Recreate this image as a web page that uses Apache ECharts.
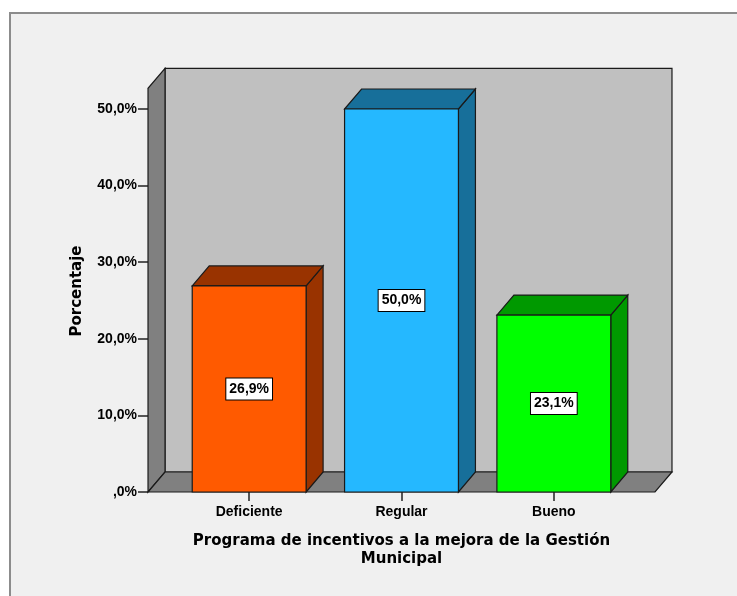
<!DOCTYPE html>
<html>
<head>
<meta charset="utf-8">
<script src="https://cdn.jsdelivr.net/npm/echarts@6/dist/echarts.min.js"></script>
<style>
	html, body { margin: 0; padding: 0; background: #ffffff; }
	#chart { width: 737px; height: 596px; }
</style>
</head>
<body>
<div id="chart"></div>
<script>
// datos del grafico
const categories = ['Deficiente', 'Regular', 'Bueno'];
const percentages = [26.9, 50.0, 23.1];
const frontColors = ['#ff5a00', '#25b8ff', '#00ff00'];
const sideColors = ['#993300', '#176f9a', '#009900'];
const wallTop = [52.7]; // altura de las paredes del fondo

const depthX = 17;   // profundidad 3D en px
const depthY = -20;
const barRatio = 0.7475;
const edgeRatio = 0.664;
const edgeColor = '#1a1a1a';
const arialFont = '"Liberation Sans", Arial, sans-serif';
const titleFont = '"DejaVu Sans", Verdana, sans-serif';

function fmtPct(v) {
	if (v === 0) return ',0%';
	return v.toFixed(1).replace('.', ',') + '%';
}

let myChart = echarts.init(document.getElementById('chart'));

let option = {
	backgroundColor: '#ffffff',
	animation: false,
	textStyle: { fontFamily: arialFont },
	graphic: [{
		type: 'rect',
		z: -10,
		silent: true,
		shape: { x: 10, y: 13, width: 760, height: 620 },
		style: { fill: '#f0f0f0', stroke: '#8c8c8c', lineWidth: 2 }
	}],
	grid: {
		left: 173,
		right: 107,
		top: 109,
		bottom: 104
	},
	xAxis: {
		type: 'category',
		data: categories,
		axisLine: { show: false },
		axisTick: {
			show: true,
			alignWithLabel: true,
			length: 9,
			lineStyle: { color: '#222', width: 1.5 }
		},
		axisLabel: {
			margin: 13,
			color: '#000',
			fontSize: 14,
			fontWeight: 'bold',
			fontFamily: arialFont
		},
		name: 'Programa de incentivos a la mejora de la Gestión\nMunicipal',
		nameLocation: 'middle',
		nameGap: 40,
		nameTextStyle: {
			color: '#000',
			fontSize: 15,
			fontWeight: 'bold',
			fontFamily: titleFont,
			lineHeight: 18
		}
	},
	yAxis: {
		type: 'value',
		min: 0,
		max: 50,
		interval: 10,
		offset: 25,
		splitLine: { show: false },
		axisLine: { show: false },
		axisTick: {
			show: true,
			length: 10,
			lineStyle: { color: '#222', width: 1.5 }
		},
		axisLabel: {
			margin: 11,
			color: '#000',
			fontSize: 14,
			fontWeight: 'bold',
			fontFamily: arialFont,
			formatter: fmtPct
		},
		name: 'Porcentaje',
		nameLocation: 'middle',
		nameGap: 63,
		nameTextStyle: {
			color: '#000',
			fontSize: 15,
			fontWeight: 'bold',
			fontFamily: titleFont,
			padding: [0, 0, 0, 19]
		}
	},
	series: [
		{
			// paredes y piso
			type: 'custom',
			z: 1,
			silent: true,
			clip: false,
			data: [[0, wallTop[0]]],
			renderItem: function(params, api) {
				let band = api.size([1, 0])[0];
				let first = api.coord([0, 0]);
				let last = api.coord([categories.length - 1, 0]);
				let x0 = first[0] - edgeRatio * band;
				let x1 = last[0] + edgeRatio * band;
				let y0 = first[1];
				let yTop = api.coord([0, api.value(1)])[1];
				let st = { stroke: edgeColor, lineWidth: 1.2 };
				return {
					type: 'group',
					children: [
						{
							type: 'rect',
							shape: { x: x0 + depthX, y: yTop + depthY, width: x1 - x0, height: y0 - yTop },
							style: Object.assign({ fill: '#c0c0c0' }, st)
						},
						{
							type: 'polygon',
							shape: { points: [[x0, y0], [x0, yTop], [x0 + depthX, yTop + depthY], [x0 + depthX, y0 + depthY]] },
							style: Object.assign({ fill: '#808080' }, st)
						},
						{
							type: 'polygon',
							shape: { points: [[x0, y0], [x1, y0], [x1 + depthX, y0 + depthY], [x0 + depthX, y0 + depthY]] },
							style: Object.assign({ fill: '#808080' }, st)
						}
					]
				};
			}
		},
		{
			// barras 3D
			type: 'custom',
			z: 3,
			clip: false,
			data: percentages.map((v, i) => [i, v]),
			renderItem: function(params, api) {
				let idx = api.value(0);
				let val = api.value(1);
				let band = api.size([1, 0])[0];
				let w = band * barRatio;
				let base = api.coord([idx, 0]);
				let top = api.coord([idx, val]);
				let mid = api.coord([idx, val / 2]);
				let xl = base[0] - w / 2;
				let xr = base[0] + w / 2;
				let y0 = base[1];
				let yt = top[1];
				let st = { stroke: edgeColor, lineWidth: 1.2 };
				return {
					type: 'group',
					children: [
						{
							type: 'polygon',
							shape: { points: [[xr, yt], [xr, y0], [xr + depthX, y0 + depthY], [xr + depthX, yt + depthY]] },
							style: Object.assign({ fill: sideColors[idx] }, st)
						},
						{
							type: 'polygon',
							shape: { points: [[xl, yt], [xr, yt], [xr + depthX, yt + depthY], [xl + depthX, yt + depthY]] },
							style: Object.assign({ fill: sideColors[idx] }, st)
						},
						{
							type: 'rect',
							shape: { x: xl, y: yt, width: w, height: y0 - yt },
							style: Object.assign({ fill: frontColors[idx] }, st)
						},
						{
							type: 'text',
							x: base[0],
							y: mid[1],
							style: {
								text: fmtPct(val),
								fill: '#000',
								font: 'bold 14px ' + arialFont,
								align: 'center',
								verticalAlign: 'middle',
								backgroundColor: '#ffffff',
								borderColor: '#000',
								borderWidth: 1,
								padding: [4, 3, 3, 3]
							}
						}
					]
				};
			}
		}
	]
};

option && myChart.setOption(option);
</script>
</body>
</html>
